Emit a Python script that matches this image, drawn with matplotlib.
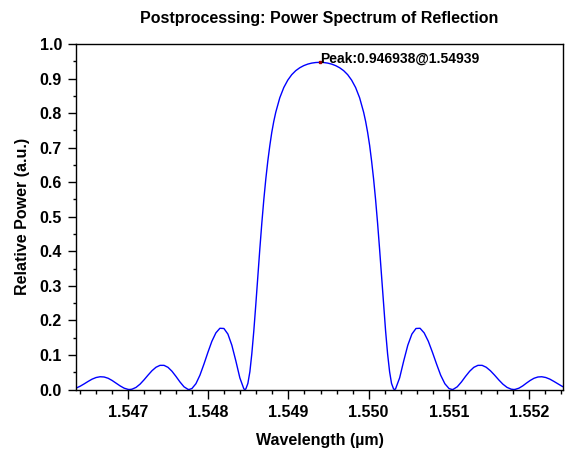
import matplotlib
matplotlib.use('Agg')
import matplotlib.pyplot as plt
from matplotlib.ticker import MultipleLocator, FormatStrFormatter

plt.rcParams['font.family'] = ['Liberation Sans', 'DejaVu Sans']

# wavelength (um) and relative reflected power
wavelength = [
    1.546352, 1.546402, 1.546452, 1.546502, 1.546551, 1.546601, 1.546651, 1.546701,
    1.546751, 1.546800, 1.546850, 1.546900, 1.546950, 1.547000, 1.547019, 1.547049,
    1.547099, 1.547149, 1.547199, 1.547249, 1.547298, 1.547348, 1.547398, 1.547448,
    1.547498, 1.547547, 1.547597, 1.547647, 1.547697, 1.547747, 1.547761, 1.547796,
    1.547846, 1.547896, 1.547946, 1.547996, 1.548045, 1.548095, 1.548145, 1.548195,
    1.548245, 1.548294, 1.548344, 1.548394, 1.548444, 1.548457, 1.548469, 1.548494,
    1.548519, 1.548543, 1.548568, 1.548593, 1.548618, 1.548643, 1.548668, 1.548693,
    1.548718, 1.548743, 1.548768, 1.548792, 1.548817, 1.548842, 1.548892, 1.548942,
    1.548992, 1.549041, 1.549091, 1.549141, 1.549191, 1.549241, 1.549290, 1.549340,
    1.549390,
    1.549440, 1.549490, 1.549539, 1.549589, 1.549639, 1.549689, 1.549739, 1.549788,
    1.549838, 1.549888, 1.549938, 1.549963, 1.549988, 1.550013, 1.550037, 1.550062,
    1.550087, 1.550112, 1.550137, 1.550162, 1.550187, 1.550212, 1.550237, 1.550262,
    1.550286, 1.550311, 1.550323, 1.550336, 1.550387, 1.550438, 1.550489, 1.550540,
    1.550591, 1.550642, 1.550693, 1.550745, 1.550796, 1.550848, 1.550899, 1.550951,
    1.551003, 1.551041, 1.551055, 1.551106, 1.551158, 1.551209, 1.551261, 1.551312,
    1.551364, 1.551416, 1.551467, 1.551519, 1.551571, 1.551623, 1.551675, 1.551727,
    1.551779, 1.551811, 1.551828, 1.551876, 1.551923, 1.551969, 1.552016, 1.552063,
    1.552112, 1.552160, 1.552210, 1.552261, 1.552311, 1.552362, 1.552412, 1.552462,
]
power = [
    0.0041, 0.0095, 0.0163, 0.0235, 0.0300, 0.0347, 0.0369, 0.0362,
    0.0325, 0.0262, 0.0185, 0.0105, 0.0039, 0.0003, 0.0000, 0.0009,
    0.0061, 0.0155, 0.0280, 0.0417, 0.0544, 0.0644, 0.0699, 0.0699,
    0.0641, 0.0529, 0.0379, 0.0218, 0.0079, 0.0004, 0.0000, 0.0028,
    0.0168, 0.0414, 0.0735, 0.1079, 0.1396, 0.1639, 0.1772, 0.1766,
    0.1604, 0.1282, 0.0827, 0.0336, 0.0017, 0.0000, 0.0018, 0.0176,
    0.0514, 0.1030, 0.1694, 0.2459, 0.3267, 0.4065, 0.4817, 0.5499,
    0.6099, 0.6619, 0.7063, 0.7440, 0.7759, 0.8025, 0.8443, 0.8740,
    0.8955, 0.9112, 0.9228, 0.9312, 0.9374, 0.9418, 0.9447, 0.9464,
    0.946938,
    0.9464, 0.9447, 0.9418, 0.9374, 0.9312, 0.9228, 0.9112, 0.8955,
    0.8740, 0.8443, 0.8025, 0.7759, 0.7440, 0.7063, 0.6619, 0.6099,
    0.5499, 0.4817, 0.4065, 0.3267, 0.2459, 0.1694, 0.1030, 0.0514,
    0.0176, 0.0018, 0.0000, 0.0017, 0.0336, 0.0827, 0.1282, 0.1604,
    0.1766, 0.1772, 0.1639, 0.1396, 0.1079, 0.0735, 0.0414, 0.0168,
    0.0028, 0.0000, 0.0004, 0.0079, 0.0218, 0.0379, 0.0529, 0.0641,
    0.0699, 0.0699, 0.0644, 0.0544, 0.0417, 0.0280, 0.0155, 0.0061,
    0.0009, 0.0000, 0.0003, 0.0039, 0.0105, 0.0185, 0.0262, 0.0325,
    0.0362, 0.0369, 0.0347, 0.0300, 0.0235, 0.0163, 0.0095, 0.0041,
]
peak_wl = 1.54939
peak_val = 0.946938
x_range = (1.54635, 1.552425)
y_range = (0.0, 1.0)

fig = plt.figure(figsize=(5.65, 4.5), dpi=100)
ax = fig.add_axes([76 / 565, 1 - 389.5 / 450, 487 / 565, 345.5 / 450])

ax.plot(wavelength, power, color='#0000ff', lw=1.0)
ax.plot([peak_wl], [peak_val], 's', color='#a00000', ms=1.6)
ax.text(peak_wl, peak_val, 'Peak:%g@%g' % (peak_val, peak_wl),
        ha='left', va='baseline', fontsize=10, fontweight='bold')

ax.set_xlim(*x_range)
ax.set_ylim(*y_range)
ax.xaxis.set_major_locator(MultipleLocator(0.001))
ax.xaxis.set_minor_locator(MultipleLocator(0.0002))
ax.yaxis.set_major_locator(MultipleLocator(0.1))
ax.yaxis.set_minor_locator(MultipleLocator(0.05))
ax.xaxis.set_major_formatter(FormatStrFormatter('%.3f'))
ax.yaxis.set_major_formatter(FormatStrFormatter('%.1f'))

ax.tick_params(axis='both', which='both', direction='out', width=1.0,
               labelsize=11.5)
ax.tick_params(axis='x', which='major', length=6.5, pad=5)
ax.tick_params(axis='x', which='minor', length=3)
ax.tick_params(axis='y', which='major', length=5.5, pad=4.5)
ax.tick_params(axis='y', which='minor', length=2.5)
for lab in ax.get_xticklabels() + ax.get_yticklabels():
    lab.set_fontweight('bold')
for sp in ax.spines.values():
    sp.set_linewidth(1.0)

ax.set_xlabel('Wavelength (\u00b5m)', fontsize=11.5, fontweight='bold', labelpad=9)
ax.set_ylabel('Relative Power (a.u.)', fontsize=11.5, fontweight='bold', labelpad=7)
ax.set_title('Postprocessing: Power Spectrum of Reflection', fontsize=11.5,
             fontweight='bold', pad=15)

fig.savefig('out.png', dpi=100)
